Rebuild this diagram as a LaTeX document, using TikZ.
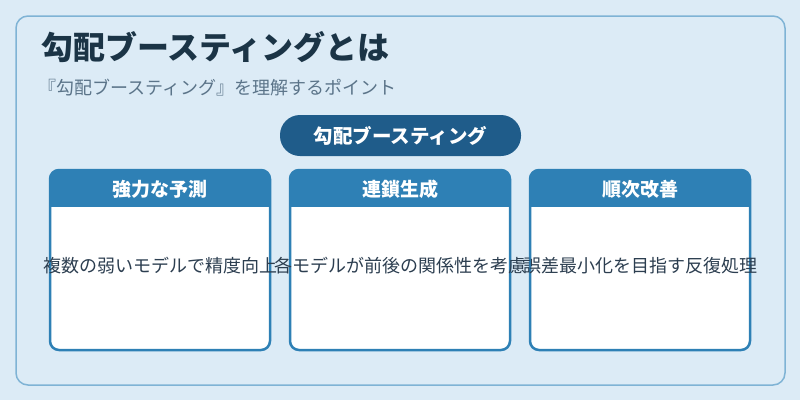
\documentclass[tikz,border=0pt]{standalone}
\usepackage{fontspec}
\setmainfont{Noto Sans CJK JP}
\usepackage{xcolor}
\usepackage{tikz}
\usetikzlibrary{positioning}
\definecolor{bgblue}{HTML}{DCEBF6}
\definecolor{frameblue}{HTML}{7FB3D5}
\definecolor{titlecol}{HTML}{1B3446}
\definecolor{subcol}{HTML}{5B7489}
\definecolor{pillblue}{HTML}{1F5C8A}
\definecolor{cardblue}{HTML}{2E80B5}
\definecolor{bodycol}{HTML}{2C3E50}
\tikzset{
  headtext/.style={text=white, font=\fontsize{19}{22}\selectfont\bfseries},
  bodytext/.style={text=bodycol, font=\fontsize{18}{21}\selectfont},
  cardframe/.style={draw=cardblue, line width=2.5pt, rounded corners=9pt}
}

\begin{document}
\begin{tikzpicture}[x=1pt,y=-1pt]
            % Fond
            \fill[bgblue] (0,0) rectangle (800,400);
            \useasboundingbox (0,0) rectangle (800,400);
            \draw[frameblue, line width=1.5pt, rounded corners=12pt] (16,16) rectangle (785,385);

            % Titre
            \node[anchor=west, inner sep=0pt, text=titlecol, font=\fontsize{32}{36}\selectfont\bfseries] (title) at (41,47) {勾配ブースティングとは};
            \node[anchor=east, inner sep=0pt, text=subcol, font=\fontsize{18}{20}\selectfont] (subtitle) at (397,88) {『勾配ブースティング』を理解するポイント};

            % Pilule
            \fill[pillblue, rounded corners=20pt] (280,115) rectangle (521,156);
            \node[headtext, font=\fontsize{19.5}{22}\selectfont\bfseries] (pill) at (400.5,135.5) {勾配ブースティング};

            % Carte 1
            \fill[white, rounded corners=9pt] (50,170) rectangle (270,350);
            \begin{scope}
              \clip[rounded corners=9pt] (50,170) rectangle (270,350);
              \fill[cardblue] (50,170) rectangle (270,207);
            \end{scope}
            \draw[cardframe] (50,170) rectangle (270,350);
            \node[headtext] (head1) at (160,189) {強力な予測};

            % Carte 2
            \fill[white, rounded corners=9pt] (290,170) rectangle (510,350);
            \begin{scope}
              \clip[rounded corners=9pt] (290,170) rectangle (510,350);
              \fill[cardblue] (290,170) rectangle (510,207);
            \end{scope}
            \draw[cardframe] (290,170) rectangle (510,350);
            \node[headtext] (head2) at (400,189) {連鎖生成};

            % Carte 3
            \fill[white, rounded corners=9pt] (530,170) rectangle (750,350);
            \begin{scope}
              \clip[rounded corners=9pt] (530,170) rectangle (750,350);
              \fill[cardblue] (530,170) rectangle (750,207);
            \end{scope}
            \draw[cardframe] (530,170) rectangle (750,350);
            \node[headtext] (head3) at (640,189) {順次改善};

            % Textes des cartes
            \node[bodytext] (body1) at (160,266) {複数の弱いモデルで精度向上};
            \node[bodytext] (body2) at (400,266) {各モデルが前後の関係性を考慮};
            \node[bodytext] (body3) at (640,266) {誤差最小化を目指す反復処理};
        \end{tikzpicture}
\end{document}
